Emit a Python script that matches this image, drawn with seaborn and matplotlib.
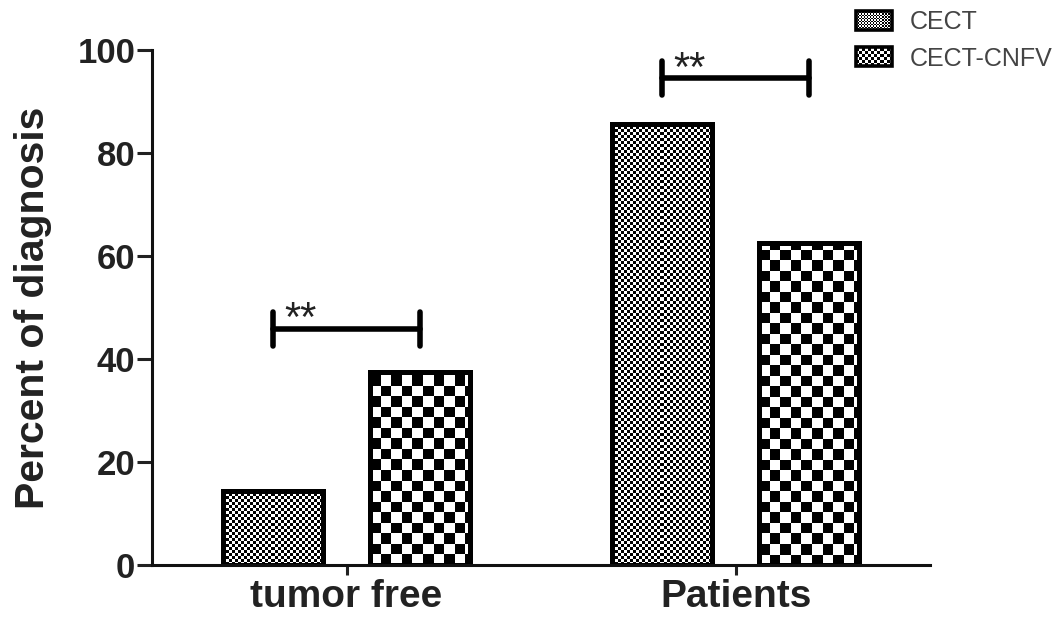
import numpy as np
import pandas as pd
import seaborn as sns
import matplotlib.pyplot as plt
from matplotlib.patches import Rectangle
from matplotlib.legend_handler import HandlerBase

# data
groups = ['tumor free', 'Patients']
methods = ['CECT', 'CECT-CNFV']
cect = [14.3, 85.7]
cnfv = [37.5, 62.5]
sig_marks = ['**', '**']
sig_heights = [45.8, 94.5]

df = pd.DataFrame({
    'group': groups * 2,
    'method': [methods[0]] * 2 + [methods[1]] * 2,
    'pct': cect + cnfv,
})

sns.set_style('ticks')
plt.rcParams['font.family'] = ['Liberation Sans', 'DejaVu Sans']

fig = plt.figure(figsize=(10.63, 6.27), dpi=100)
ax = fig.add_axes([0.143, 0.099, 0.732, 0.821])

sns.barplot(data=df, x='group', y='pct', hue='method', order=groups,
            hue_order=methods, palette=['white', 'white'], width=0.756,
            gap=0.32, edgecolor='black', linewidth=3.6, errorbar=None,
            legend=False, ax=ax)
ax.set_xlim(-0.5, 1.5)
ax.set_ylim(0, 100)

# checkerboard fill: square size in pixels per method
square_px = [3, 10.5]


def fill_checker(bar, sq):
    x0, w, h = bar.get_x(), bar.get_width(), bar.get_height()
    (px0, py0), (px1, py1) = ax.transData.transform([(x0, 0), (x0 + w, h)])
    nx = int(np.ceil((px1 - px0) / sq))
    ny = int(np.ceil((py1 - py0) / sq))
    cells = np.add.outer(np.arange(ny), np.arange(nx)) % 2
    dx = w * sq / (px1 - px0)
    dy = h * sq / (py1 - py0)
    im = ax.imshow(cells, cmap='gray_r', vmin=0, vmax=1, origin='lower',
                   extent=(x0, x0 + nx * dx, 0, ny * dy),
                   interpolation='nearest', aspect='auto',
                   zorder=bar.get_zorder() - 0.1)
    im.set_clip_path(bar)
    bar.set_facecolor('none')


for cont, sq in zip(ax.containers, square_px):
    for bar in cont:
        fill_checker(bar, sq)
ax.set_xlim(-0.5, 1.5)
ax.set_ylim(0, 100)

# significance brackets between bar centres
cap = 3.3
for i, (mark, h) in enumerate(zip(sig_marks, sig_heights)):
    b0, b1 = ax.containers[0][i], ax.containers[1][i]
    xl = b0.get_x() + b0.get_width() / 2
    xr = b1.get_x() + b1.get_width() / 2
    kw = dict(color='black', lw=4, solid_capstyle='round', clip_on=False)
    ax.plot([xl, xr], [h, h], **kw)
    ax.plot([xl, xl], [h - cap, h + cap], **kw)
    ax.plot([xr, xr], [h - cap, h + cap], **kw)
    ax.text(xl + 0.03, h - 0.4, mark, ha='left', va='baseline',
            fontsize=30, color='#222222')

ax.set_xlabel('')
ax.set_ylabel('Percent of diagnosis', fontsize=29.5, fontweight='bold',
              color='#222222')
ax.yaxis.set_label_coords(-0.128, 0.5)
ax.set_yticks([0, 20, 40, 60, 80, 100])
ax.tick_params(axis='y', length=10.5, width=2.2, pad=1.5, labelsize=25,
               colors='#222222')
ax.tick_params(axis='x', length=7, width=2.2, pad=3, labelsize=28,
               colors='#222222')
for lab in ax.get_xticklabels() + ax.get_yticklabels():
    lab.set_fontweight('bold')
for s in ['left', 'bottom']:
    ax.spines[s].set_linewidth(2.2)
    ax.spines[s].set_color('#111111')
sns.despine(ax=ax)


class CheckerHandler(HandlerBase):
    def __init__(self, sq):
        super().__init__()
        self.sq = sq

    def create_artists(self, legend, orig_handle, xdescent, ydescent,
                       width, height, fontsize, trans):
        x0, y0 = -xdescent, -ydescent
        arts = [Rectangle((x0, y0), width, height, facecolor='white',
                          edgecolor='none', transform=trans)]
        nx = int(np.ceil(width / self.sq))
        ny = int(np.ceil(height / self.sq))
        for i in range(ny):
            for j in range(nx):
                if (i + j) % 2:
                    w = min(self.sq, width - j * self.sq)
                    hh = min(self.sq, height - i * self.sq)
                    arts.append(Rectangle((x0 + j * self.sq, y0 + i * self.sq),
                                          w, hh, facecolor='black',
                                          edgecolor='none', transform=trans))
        arts.append(Rectangle((x0, y0), width, height, facecolor='none',
                              edgecolor='black', linewidth=2.6,
                              transform=trans))
        return arts


h_cect = Rectangle((0, 0), 1, 1)
h_cnfv = Rectangle((0, 0), 1, 1)
leg = ax.legend([h_cect, h_cnfv], methods,
                handler_map={h_cect: CheckerHandler(1.1),
                             h_cnfv: CheckerHandler(2.2)},
                loc='upper left', bbox_to_anchor=(856 / 1063, 1 - 10 / 627),
                bbox_transform=fig.transFigure, frameon=False, fontsize=18,
                handlelength=1.45, handleheight=0.8, handletextpad=0.7,
                labelspacing=0.5, borderpad=0, borderaxespad=0)
for t in leg.get_texts():
    t.set_color('#444444')

fig.savefig('out.png', dpi=100)
